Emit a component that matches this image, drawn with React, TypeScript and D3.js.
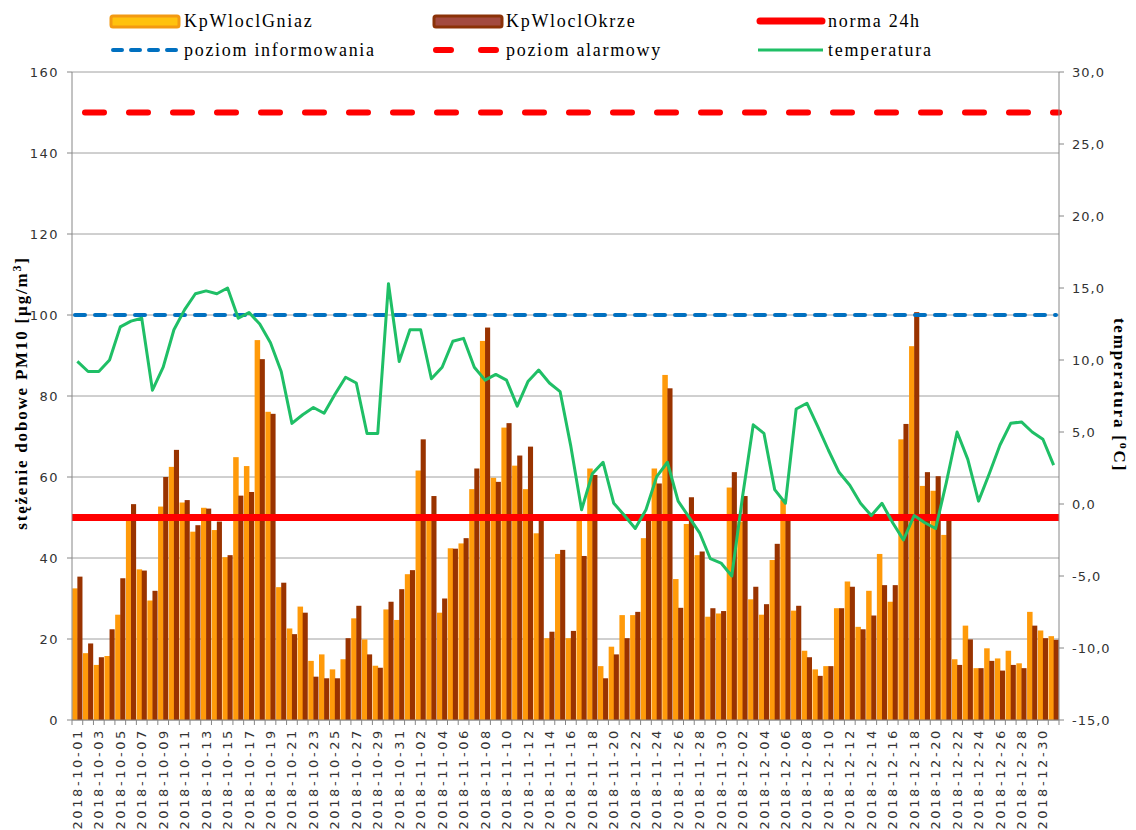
import React from 'react';
import * as d3 from 'd3';

// categories: every day from 2018-10-01 to 2018-12-31
const dates: string[] = d3.utcDay
  .range(new Date(Date.UTC(2018, 9, 1)), new Date(Date.UTC(2019, 0, 1)))
  .map(d => d3.utcFormat('%Y-%m-%d')(d));

// PM10 daily values, µg/m3
const gniaz = [
  32.5, 16.5, 13.6, 15.8, 26, 50, 37.2, 29.5, 52.7, 62.5, 53.7, 46.5, 52.4, 46.9, 40.2, 64.9,
  62.7, 93.8, 76.1, 32.8, 22.6, 28, 14.6, 16.2, 12.5, 15, 25.1, 19.9, 13.4, 27.3, 24.7,
  36, 61.6, 50, 26.5, 42.4, 43.6, 57, 93.6, 59.8, 72.2, 62.8, 57, 46.1, 20.2, 41, 20.2,
  50, 62.1, 13.3, 18.1, 25.9, 25.9, 44.9, 62.1, 85.2, 34.8, 48.4, 40.7, 25.5, 26.3,
  57.4, 49, 29.8, 26, 39.5, 54.3, 27, 17.1, 12.5, 13.3, 27.6, 34.2, 23, 31.9, 41, 29.2,
  69.3, 92.3, 57.8, 56.6, 45.7, 15, 23.3, 12.8, 17.7, 15.2, 17.1, 14, 26.7, 22.1, 20.7,
];
const okrze = [
  35.4, 18.9, 15.5, 22.4, 35, 53.3, 36.9, 31.9, 60, 66.7, 54.3, 48.1, 52.2, 49, 40.7, 55.4,
  56.3, 89.1, 75.6, 33.9, 21.2, 26.5, 10.7, 10.3, 10.3, 20.2, 28.2, 16.2, 12.9, 29.2, 32.3,
  37, 69.3, 55.3, 30, 42.3, 44.9, 62.1, 96.9, 58.8, 73.3, 65.3, 67.5, 50, 21.8, 42, 22,
  40.5, 60.5, 10.3, 16.2, 20.2, 26.7, 50, 58.4, 81.9, 27.7, 55, 41.6, 27.6, 26.9,
  61.2, 55.3, 32.9, 28.6, 43.5, 50, 28.2, 15.5, 10.9, 13.3, 27.6, 32.9, 22.4, 25.8, 33.3, 33.3,
  73.1, 100.7, 61.2, 60.2, 50, 13.6, 19.9, 12.8, 14.6, 12.2, 13.6, 12.8, 23.3, 20.2, 19.8,
];
// temperature, °C
const temperatura = [
  9.9, 9.2, 9.2, 10.0, 12.3, 12.7, 12.9, 7.9, 9.5, 12.1, 13.5, 14.6, 14.8, 14.6, 15.0, 12.9,
  13.3, 12.5, 11.2, 9.2, 5.6, 6.2, 6.7, 6.3, 7.6, 8.8, 8.4, 4.9, 4.9, 15.3, 9.9,
  12.1, 12.1, 8.7, 9.5, 11.3, 11.5, 9.5, 8.6, 9.0, 8.6, 6.8, 8.5, 9.3, 8.4, 7.8, 4.0,
  -0.4, 2.1, 2.9, 0.05, -0.8, -1.7, -0.4, 1.9, 2.9, 0.2, -0.9, -2.0, -3.8, -4.1,
  -5.0, 0.5, 5.5, 4.9, 1.0, 0.05, 6.6, 7.0, 5.4, 3.75, 2.2, 1.3, 0.05, -0.8, 0.05, -1.3,
  -2.5, -0.8, -1.3, -1.7, 1.5, 5.0, 3.1, 0.2, 2.1, 4.1, 5.6, 5.7, 5.0, 4.5, 2.7,
];

// reference levels
const norma24h = 50;
const poziomInformowania = 100;
const poziomAlarmowy = 150;

const leftTicks = [0, 20, 40, 60, 80, 100, 120, 140, 160];
const rightTicks = [-15, -10, -5, 0, 5, 10, 15, 20, 25, 30];

const W = 1136;
const H = 830;
const left = 72;
const right = 1059;
const top = 72;
const bottom = 720;

const tickFont = 'DejaVu Sans, Verdana, sans-serif';
const serif = 'Liberation Serif, Times New Roman, serif';

export default function App() {
  const x = d3.scaleBand<string>().domain(dates).range([left, right]).padding(0);
  const sub = d3.scaleBand<string>().domain(['g', 'o']).range([0, x.bandwidth()]).paddingOuter(0.05);
  const y = d3.scaleLinear().domain([0, 160]).range([bottom, top]);
  const yt = d3.scaleLinear().domain([-15, 30]).range([bottom, top]);

  const line = d3
    .line<number>()
    .x((_, i) => (x(dates[i]) as number) + x.bandwidth() / 2)
    .y(d => yt(d));

  const fmtR = (v: number) => d3.format('.1f')(v).replace('.', ',').replace('−', '-');

  return (
    <svg width={W} height={H} style={{ position: 'absolute', left: 0, top: 0, background: '#fff' }}>
      {/* grid */}
      {leftTicks.map(t => (
        <line key={'g' + t} x1={left} x2={right} y1={y(t)} y2={y(t)} stroke="#a0a0a0" strokeWidth={1} />
      ))}

      {/* bars */}
      {dates.map((d, i) => (
        <g key={d}>
          <rect
            x={(x(d) as number) + (sub('g') as number)}
            y={y(gniaz[i])}
            width={sub.bandwidth() + 0.4}
            height={bottom - y(gniaz[i])}
            fill="#ff9a0a"
          />
          <rect
            x={(x(d) as number) + (sub('o') as number)}
            y={y(okrze[i])}
            width={sub.bandwidth()}
            height={bottom - y(okrze[i])}
            fill="#993300"
          />
        </g>
      ))}

      {/* reference lines */}
      <line x1={left} x2={right} y1={y(norma24h)} y2={y(norma24h)} stroke="#ff0000" strokeWidth={7} />
      <line
        x1={left + 3}
        x2={right - 3}
        y1={y(poziomInformowania)}
        y2={y(poziomInformowania)}
        stroke="#0070c0"
        strokeWidth={4}
        strokeDasharray="10 10"
        strokeLinecap="round"
      />
      <line
        x1={left}
        x2={right}
        y1={y(poziomAlarmowy)}
        y2={y(poziomAlarmowy)}
        stroke="#ff0000"
        strokeWidth={6}
        strokeDasharray="19 25"
        strokeDashoffset={-13}
        strokeLinecap="round"
      />

      {/* temperature */}
      <path d={line(temperatura) || ''} fill="none" stroke="#1fbf66" strokeWidth={3} strokeLinejoin="round" />

      {/* axes */}
      <line x1={left} x2={left} y1={top} y2={bottom} stroke="#868686" />
      <line x1={right} x2={right} y1={top} y2={bottom} stroke="#868686" />
      <line x1={left} x2={right} y1={bottom} y2={bottom} stroke="#868686" />
      {leftTicks.map(t => (
        <g key={'l' + t}>
          <line x1={left - 5} x2={left} y1={y(t)} y2={y(t)} stroke="#868686" />
          <text
            x={left - 13}
            y={y(t)}
            dy="0.35em"
            textAnchor="end"
            fontFamily={tickFont}
            fontSize={13}
            letterSpacing={1.5}
            fill="#333"
          >
            {t}
          </text>
        </g>
      ))}
      {rightTicks.map(t => (
        <g key={'r' + t}>
          <line x1={right} x2={right + 5} y1={yt(t)} y2={yt(t)} stroke="#868686" />
          <text
            x={right + 13}
            y={yt(t)}
            dy="0.35em"
            textAnchor="start"
            fontFamily={tickFont}
            fontSize={13}
            letterSpacing={1}
            fill="#333"
          >
            {fmtR(t)}
          </text>
        </g>
      ))}
      {dates.map(d => (
        <line
          key={'t' + d}
          x1={x(d) as number}
          x2={x(d) as number}
          y1={bottom}
          y2={bottom + 5}
          stroke="#868686"
        />
      ))}
      <line x1={right} x2={right} y1={bottom} y2={bottom + 5} stroke="#868686" />
      {dates
        .filter((_, i) => i % 2 === 0)
        .map(d => {
          const cx = (x(d) as number) + x.bandwidth() / 2;
          return (
            <text
              key={'xl' + d}
              transform={`translate(${cx},${bottom + 8}) rotate(-90)`}
              dy="0.35em"
              textAnchor="end"
              fontFamily={tickFont}
              fontSize={13}
              letterSpacing={2.6}
              fill="#333"
            >
              {d}
            </text>
          );
        })}

      {/* axis titles */}
      <text
        transform="translate(27,393) rotate(-90)"
        textAnchor="middle"
        fontFamily={serif}
        fontWeight="bold"
        fontSize={17}
        letterSpacing={1.8}
        fill="#000"
      >
        stężenie dobowe PM10 [µg/m<tspan dy={-6} fontSize={12}>3</tspan>
        <tspan dy={6}>]</tspan>
      </text>
      <text
        transform="translate(1114,395) rotate(90)"
        textAnchor="middle"
        fontFamily={serif}
        fontWeight="bold"
        fontSize={17}
        letterSpacing={1.8}
        fill="#000"
      >
        temperatura [<tspan dy={-6} fontSize={12}>o</tspan>
        <tspan dy={6}>C]</tspan>
      </text>

      {/* legend */}
      <g fontFamily={serif} fontSize={18} letterSpacing={1.7} fill="#000">
        <rect x={111} y={16} width={68} height={11} rx={2} fill="#ffc20e" stroke="#f39a12" strokeWidth={3} />
        <text x={184} y={27}>KpWloclGniaz</text>
        <rect x={434} y={16} width={68} height={11} rx={2} fill="#a34a40" stroke="#8b3208" strokeWidth={3} />
        <text x={506} y={27}>KpWloclOkrze</text>
        <line x1={760} x2={822} y1={21} y2={21} stroke="#ff0000" strokeWidth={7} strokeLinecap="round" />
        <text x={828} y={27}>norma 24h</text>

        <line
          x1={113}
          x2={178}
          y1={50}
          y2={50}
          stroke="#0070c0"
          strokeWidth={4}
          strokeDasharray="9 9"
          strokeLinecap="round"
        />
        <text x={184} y={56}>poziom informowania</text>
        <line
          x1={436}
          x2={500}
          y1={50}
          y2={50}
          stroke="#ff0000"
          strokeWidth={6}
          strokeDasharray="15 30"
          strokeLinecap="round"
        />
        <text x={506} y={56}>poziom alarmowy</text>
        <line x1={758} x2={823} y1={50} y2={50} stroke="#1fbf66" strokeWidth={3} />
        <text x={828} y={56}>temperatura</text>
      </g>
    </svg>
  );
}
